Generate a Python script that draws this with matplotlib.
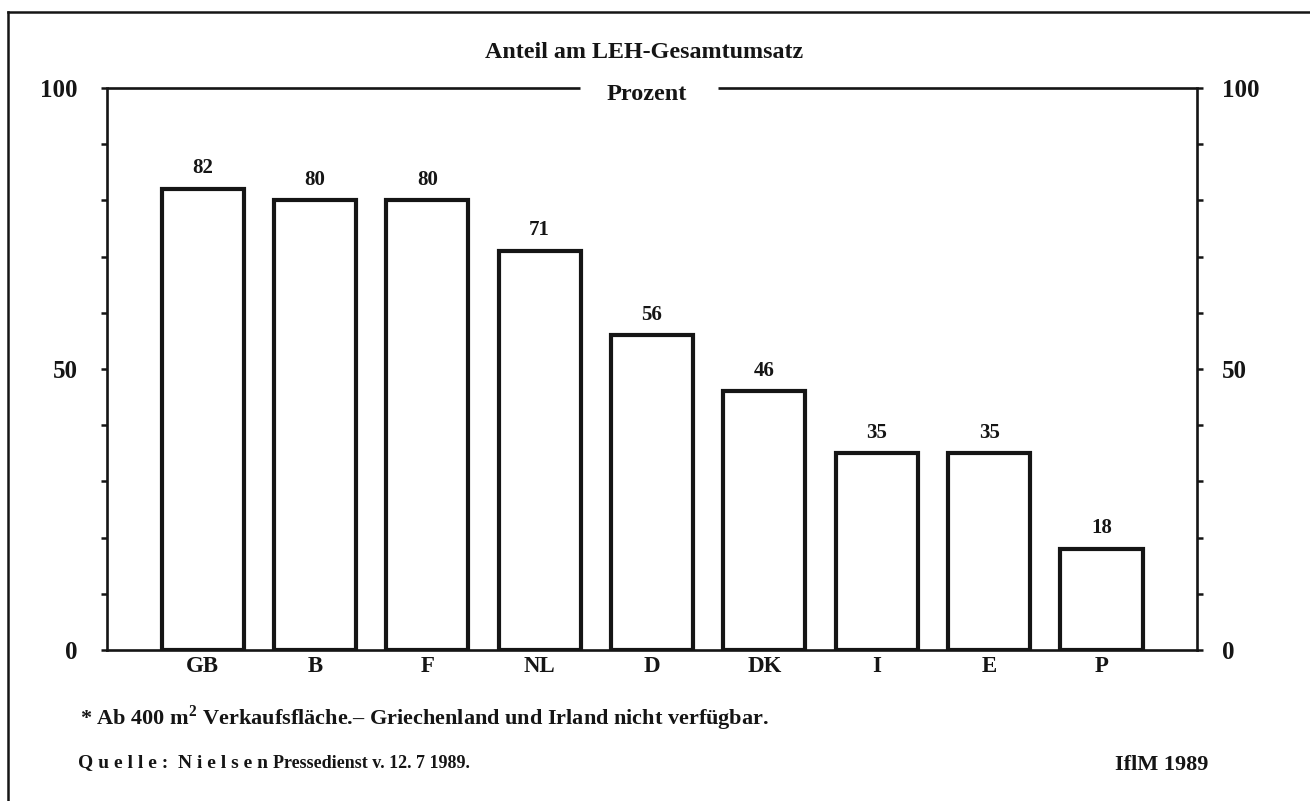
import matplotlib
matplotlib.use("Agg")
import matplotlib.pyplot as plt
from matplotlib.lines import Line2D

countries = ["GB", "B", "F", "NL", "D", "DK", "I", "E", "P"]
shares = [82, 80, 80, 71, 56, 46, 35, 35, 18]
major_ticks = [0, 50, 100]
minor_ticks = [10, 20, 30, 40, 60, 70, 80, 90]

title = "Anteil am LEH-Gesamtumsatz"
unit = "Prozent"
footnote = "* Ab 400 m$^{\\mathbf{2}}$ Verkaufsfläche.– Griechenland und Irland nicht verfügbar."
source_a = "Q u e l l e :  N i e l s e n"
source_b = "Pressedienst v. 12. 7 1989."
credit = "IflM 1989"

plt.rcParams['font.family'] = ['Liberation Serif', 'DejaVu Serif']
plt.rcParams['mathtext.fontset'] = 'custom'
plt.rcParams['mathtext.bf'] = 'Liberation Serif:bold'
plt.rcParams['mathtext.rm'] = 'Liberation Serif'

W, H = 1310, 801
fig = plt.figure(figsize=(W / 100, H / 100), dpi=100)
fig.patch.set_facecolor("white")

ink = "#151515"
x0, x1 = 107, 1197
y_top, y_bot = 88, 650
ax = fig.add_axes([x0 / W, 1 - y_bot / H, (x1 - x0) / W, (y_bot - y_top) / H])

xs = range(len(countries))
ax.bar(xs, shares, width=0.73, facecolor="white", edgecolor=ink, linewidth=3.0, zorder=3)
for x, v in zip(xs, shares):
    ax.text(x, v + 1.9, str(v), ha="center", va="bottom", fontsize=15, fontweight="bold", color=ink)

ax.set_xlim(-0.85, len(countries) - 0.15)
ax.set_ylim(0, 100)
ax.set_xticks(list(xs))
ax.set_xticklabels(countries, fontsize=16.5, fontweight="bold", color=ink)
ax.tick_params(axis="x", length=0, pad=4)

ax.set_yticks(major_ticks)
ax.set_yticks(minor_ticks, minor=True)
ax.set_yticklabels([str(t) for t in major_ticks], fontsize=18, fontweight="bold", color=ink)
ax.tick_params(axis="y", which="both", direction="out", left=True, right=False,
               labelleft=True, labelright=False, length=4, width=1.8, color=ink)
ax.tick_params(axis="y", which="major", pad=17)

ax2 = ax.twinx()
ax2.set_ylim(0, 100)
ax2.set_yticks(major_ticks)
ax2.set_yticks(minor_ticks, minor=True)
ax2.set_yticklabels([str(t) for t in major_ticks], fontsize=18, fontweight="bold", color=ink)
ax2.tick_params(axis="y", which="both", direction="out", right=True, labelright=True,
                length=4, width=1.8, color=ink)
ax2.tick_params(axis="y", which="major", pad=14)
for s in ax2.spines.values():
    s.set_visible(False)

for s in ["left", "right", "bottom"]:
    ax.spines[s].set_linewidth(1.9)
    ax.spines[s].set_color(ink)
ax.spines["top"].set_visible(False)

# top line with gap for the unit label
gap_l = (580 - x0) / (x1 - x0)
gap_r = (718 - x0) / (x1 - x0)
ax.plot([0, gap_l], [1, 1], transform=ax.transAxes, color=ink, lw=1.9, clip_on=False,
        solid_capstyle="butt")
ax.plot([gap_r, 1], [1, 1], transform=ax.transAxes, color=ink, lw=1.9, clip_on=False,
        solid_capstyle="butt")

fig.text(647 / W, 1 - 95 / H, unit, ha="center", va="center", fontsize=17.5, fontweight="bold", color=ink)
fig.text(644 / W, 1 - 52 / H, title, ha="center", va="center", fontsize=17.3, fontweight="bold", color=ink)

fig.text(80 / W, 1 - 718 / H, footnote, ha="left", va="center", fontsize=16, fontweight="bold", color=ink)
fig.text(78 / W, 1 - 763 / H, source_a, ha="left", va="center", fontsize=14, fontweight="bold", color=ink)
fig.text(273 / W, 1 - 764 / H, source_b, ha="left", va="center", fontsize=13, fontweight="bold", color=ink)
fig.text(1208 / W, 1 - 765 / H, credit, ha="right", va="center", fontsize=16, fontweight="bold", color=ink)

# outer frame (left and top edges)
fig.add_artist(Line2D([8 / W, 8 / W], [0, 1 - 12 / H], transform=fig.transFigure, color=ink, lw=1.8))
fig.add_artist(Line2D([8 / W, 1], [1 - 12 / H, 1 - 12 / H], transform=fig.transFigure, color=ink, lw=1.8))

fig.savefig("out.png", dpi=100, facecolor="white")
